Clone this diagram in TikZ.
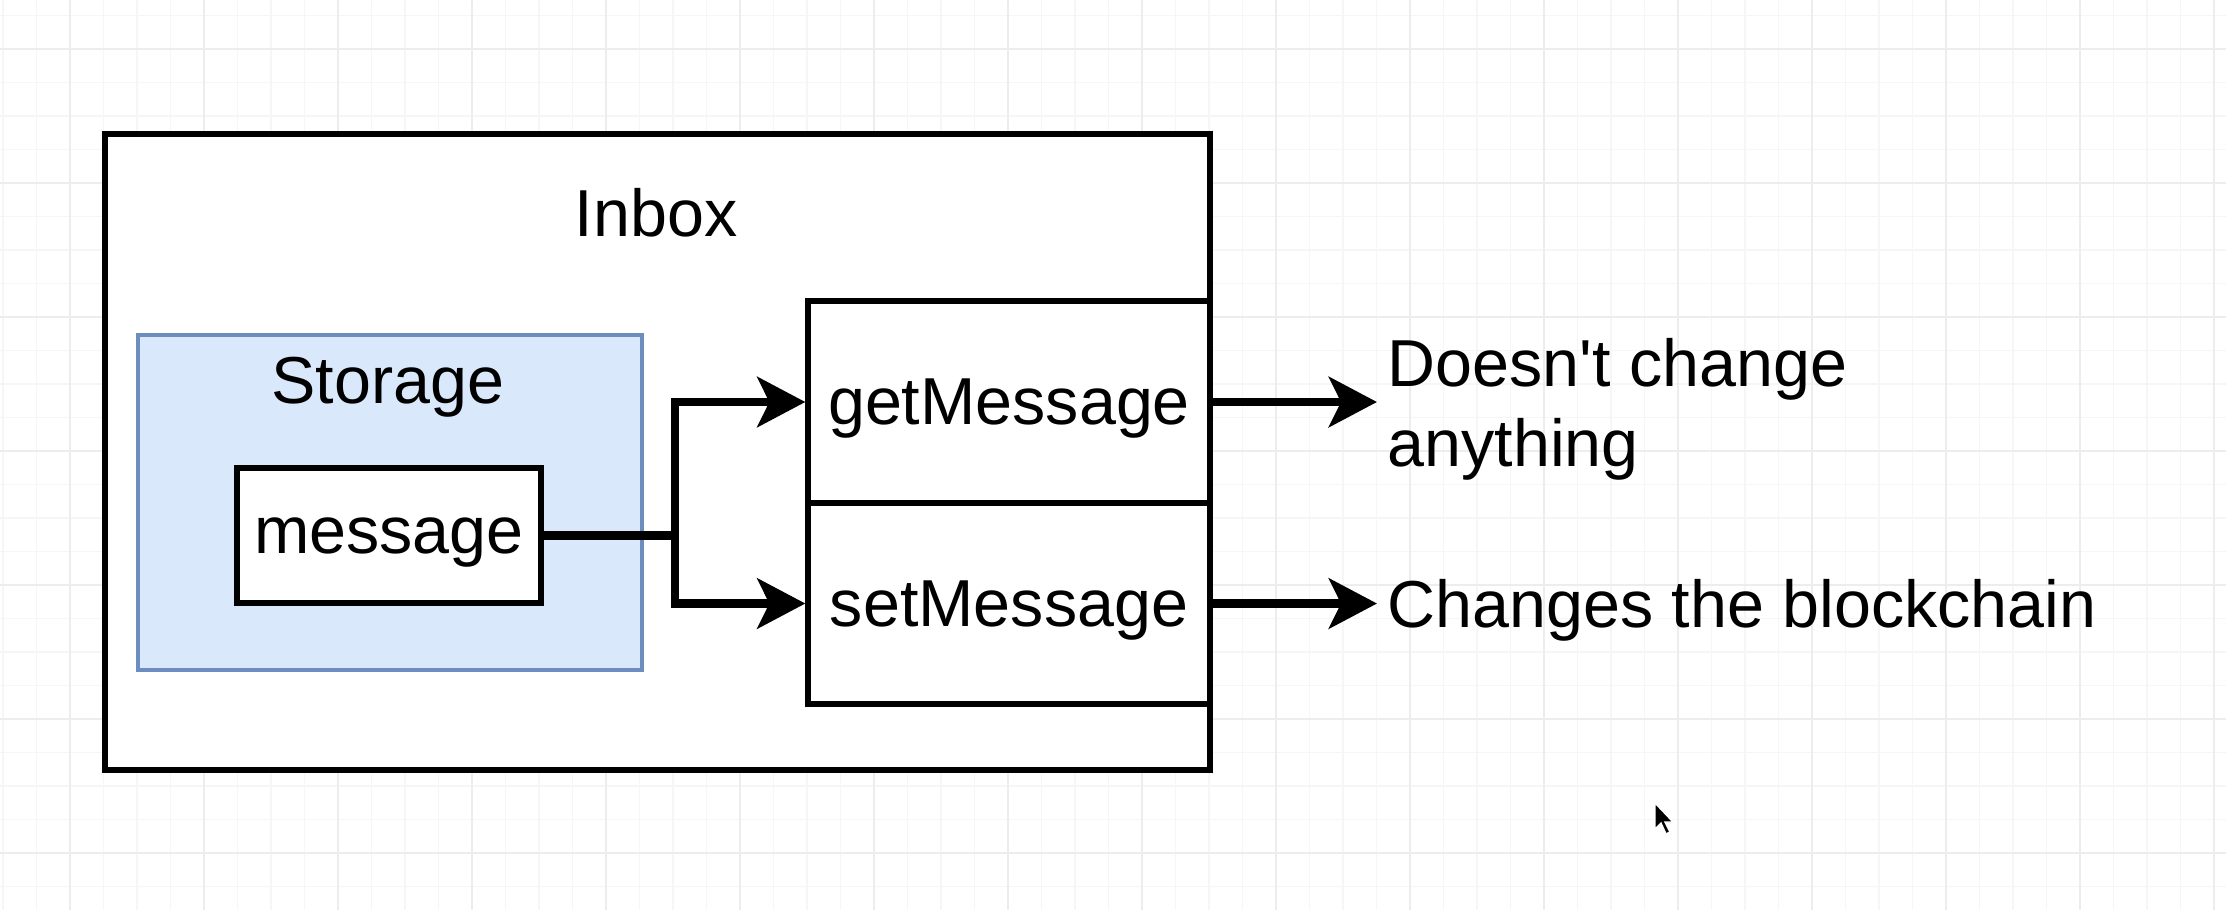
\documentclass[tikz,border=0pt]{standalone}
\usepackage{fontspec}
\setmainfont{Liberation Sans}
\usepackage{tikz}
\usetikzlibrary{positioning,arrows.meta}

\definecolor{storagefill}{HTML}{DAE8FC}
\definecolor{storageline}{HTML}{6C8EBF}
\definecolor{majorgrid}{HTML}{EDEDF0}
\definecolor{minorgrid}{HTML}{F6F6F8}

\tikzset{
  box/.style={draw,line width=1.5pt,fill=white,inner sep=0pt},
  flow/.style={line width=2.5pt,-{Stealth[length=4.8mm,width=5mm,inset=1.2mm]}},
  txt/.style={font=\fontsize{18.9}{22.7}\selectfont,inner sep=1mm}
}

\begin{document}
\begin{tikzpicture}[x=0.1mm,y=-0.1mm]
\useasboundingbox (0,0) rectangle (2226,910);
\fill[white] (0,0) rectangle (2226,910);
\foreach \i in {0,...,66} {\draw[minorgrid,line width=0.4pt] ({3+33.5*\i},0) -- ({3+33.5*\i},910);}
\foreach \j in {0,...,26} {\draw[minorgrid,line width=0.4pt] (0,{15.5+33.5*\j}) -- (2226,{15.5+33.5*\j});}
\foreach \i in {0,...,16} {\draw[majorgrid,line width=0.6pt] ({70+134*\i},0) -- ({70+134*\i},910);}
\foreach \j in {0,...,6} {\draw[majorgrid,line width=0.6pt] (0,{49+134*\j}) -- (2226,{49+134*\j});}

\node[box,minimum width=110.5mm,minimum height=63.6mm] (inbox) at (657.5,452) {};
\node[txt] (inboxtitle) at (656,213) {Inbox};
\node[box,draw=storageline,fill=storagefill,line width=1.3pt,minimum width=50.4mm,minimum height=33.5mm] (storage) at (390,502.5) {};
\node[txt] (storagetitle) at (388,387) {Storage};
\node[box,txt,inner sep=0pt,text depth=0pt,minimum width=30.4mm,minimum height=13.5mm] (msg) at (389,535.5) {message};
\node[box,txt,inner sep=0pt,text depth=0pt,minimum width=40.2mm,minimum height=20.2mm] (get) at (1009,402) {getMessage};
\node[box,txt,inner sep=0pt,text depth=0pt,minimum width=40.2mm,minimum height=20.1mm] (set) at (1009,603.5) {setMessage};

\coordinate (split) at (675,535.5);
\draw[flow] (msg.east) -- (split) |- (get.west);
\draw[flow] (split) |- (set.west);

\node[txt,anchor=west,align=left] (nochange) at (1377,409) {Doesn\textquotesingle t change\\anything};
\node[txt,anchor=west] (changes) at (1377,610) {Changes the blockchain};
\draw[flow] (get.east) -- (get.east -| nochange.west);
\draw[flow] (set.east) -- (set.east -| changes.west);

\filldraw[fill=black,draw=white,line width=0.4pt] (1655,803) -- (1655,829) -- (1661,823) -- (1666,834) -- (1670,832) -- (1665,822) -- (1673,822) -- cycle;
\end{tikzpicture}
\end{document}
